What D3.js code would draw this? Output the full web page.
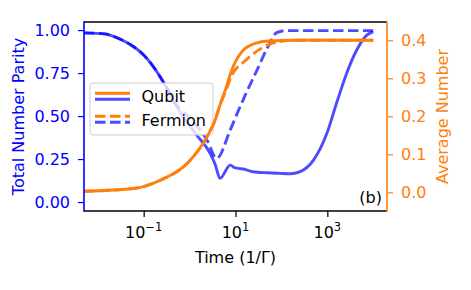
<!DOCTYPE html>
<html><head><meta charset="utf-8">
<script src="https://cdn.jsdelivr.net/npm/d3@7"></script>
<style>body{margin:0;background:#fff}svg{display:block}text{font-family:"DejaVu Sans",sans-serif}</style>
</head><body><svg id="c" width="471" height="290"></svg>
<script>
// ---- data ----
const qubitParityT = [0.005,0.014,0.032,0.063,0.1,0.145,0.28,0.54,1.33,2.8,3.6,4.6,7.7,9.5,11.5,16,24,50,93,155,250,500,980,1580,2630,4370,7240,10000];
const qubitParity  = [0.984,0.978,0.945,0.90,0.855,0.805,0.69,0.55,0.40,0.283,0.22,0.138,0.215,0.20,0.196,0.19,0.176,0.17,0.167,0.165,0.176,0.244,0.40,0.573,0.748,0.884,0.971,0.99];
const fermionParityT = [0.005,0.014,0.032,0.063,0.1,0.145,0.28,0.54,1.0,2.4,3.9,7.7,11.5,16.2,31,48,79,130,1000,10000];
const fermionParity  = [0.984,0.978,0.945,0.90,0.855,0.805,0.69,0.56,0.49,0.36,0.254,0.42,0.53,0.62,0.78,0.89,0.985,0.997,0.997,0.997];
const qubitNumberT = [0.005,0.06,0.23,0.88,2.39,3.6,4.6,6.0,8.3,13.8,27,52,200,10000];
const qubitNumber  = [0.003,0.01,0.032,0.076,0.146,0.19,0.23,0.269,0.322,0.370,0.392,0.398,0.40,0.40];
const fermionNumberT = [0.005,0.06,0.23,0.88,2.39,3.6,4.6,6.0,8.3,16.2,31.6,56,100,200,10000];
const fermionNumber  = [0.003,0.01,0.032,0.076,0.146,0.19,0.23,0.264,0.308,0.346,0.374,0.39,0.397,0.40,0.40];
const leftTicks = [0,0.25,0.5,0.75,1.0];
const rightTicks = [0,0.1,0.2,0.3,0.4];
const xTicks = [0.1,10,1000];
const legendLabels = ["Qubit","Fermion"];

const BLUE = "#0000ff", LBLUE = "rgba(0,0,255,0.7)", ORANGE = "#ff7f0e";
const L=84, R=387, T=22, B=211, FS=16, LW=2.9;
const svg = d3.select("#c");
const x = d3.scaleLog().domain([Math.pow(10,-2.3), Math.pow(10,4.3)]).range([L,R]);
const yL = d3.scaleLinear().domain([-0.052,1.047]).range([B,T]);
const yR = d3.scaleLinear().domain([-0.049,0.448]).range([B,T]);

svg.append("clipPath").attr("id","clp").append("rect").attr("x",L).attr("y",T).attr("width",R-L).attr("height",B-T);

function line(ts, vs, ys){ 
  return d3.line().x(d=>x(d[0])).y(d=>ys(d[1])).curve(d3.curveMonotoneX)(ts.map((t,i)=>[t,vs[i]]));
}
const plot = svg.append("g").attr("clip-path","url(#clp)");
plot.append("path").attr("d",line(fermionParityT,fermionParity,yL)).attr("fill","none").attr("stroke",LBLUE).attr("stroke-width",LW).attr("stroke-dasharray","10.5,4.5");
plot.append("path").attr("d",line(qubitParityT,qubitParity,yL)).attr("fill","none").attr("stroke",LBLUE).attr("stroke-width",LW);

// legend
const lg = svg.append("g");
lg.append("rect").attr("x",90).attr("y",83).attr("width",123).attr("height",52).attr("rx",3)
  .attr("fill","rgba(255,255,255,0.8)").attr("stroke","#cccccc").attr("stroke-width",1);
[[93.3,99.3,null],[116.3,122.3,"10.5,4.5"]].forEach((r,i)=>{
  lg.append("line").attr("x1",95).attr("x2",130).attr("y1",r[0]).attr("y2",r[0]).attr("stroke",ORANGE).attr("stroke-width",LW).attr("stroke-dasharray",r[2]);
  lg.append("line").attr("x1",95).attr("x2",130).attr("y1",r[1]).attr("y2",r[1]).attr("stroke",LBLUE).attr("stroke-width",LW).attr("stroke-dasharray",r[2]);
  lg.append("text").attr("x",141.5).attr("y",i?125.7:101.6).attr("font-size",FS).attr("fill","#000").text(legendLabels[i]);
});

const plot2 = svg.append("g").attr("clip-path","url(#clp)");
plot2.append("path").attr("d",line(fermionNumberT,fermionNumber,yR)).attr("fill","none").attr("stroke",ORANGE).attr("stroke-width",LW).attr("stroke-dasharray","10.5,4.5");
plot2.append("path").attr("d",line(qubitNumberT,qubitNumber,yR)).attr("fill","none").attr("stroke",ORANGE).attr("stroke-width",LW);

// axes
const ax = svg.append("g").attr("transform",`translate(0,${B})`).call(d3.axisBottom(x).tickValues(xTicks).tickSize(6).tickFormat(""));
ax.select(".domain").remove();
ax.selectAll("line").attr("stroke","#000").attr("stroke-width",1.2);
xTicks.forEach(v=>{
  const e = Math.round(Math.log10(v));
  const t = svg.append("text").attr("x",x(v)).attr("y",238).attr("text-anchor","middle").attr("font-size",FS).attr("fill","#000");
  t.append("tspan").text("10");
  t.append("tspan").attr("dy",-7).attr("font-size",FS*0.72).text(e<0?"\u2212"+(-e):String(e));
});
const al = svg.append("g").attr("transform",`translate(${L},0)`).call(d3.axisLeft(yL).tickValues(leftTicks).tickSize(6).tickFormat(d3.format(".2f")).tickPadding(8));
al.select(".domain").remove();
al.selectAll("line").attr("stroke",BLUE).attr("stroke-width",1.2);
al.selectAll("text").attr("font-size",FS).attr("fill",BLUE).attr("font-family","DejaVu Sans");
const ar = svg.append("g").attr("transform",`translate(${R},0)`).call(d3.axisRight(yR).tickValues(rightTicks).tickSize(6).tickFormat(d3.format(".1f")).tickPadding(8));
ar.select(".domain").remove();
ar.selectAll("line").attr("stroke",ORANGE).attr("stroke-width",1.2);
ar.selectAll("text").attr("font-size",FS).attr("fill",ORANGE).attr("font-family","DejaVu Sans");

// spines
svg.append("line").attr("x1",L).attr("x2",R).attr("y1",T).attr("y2",T).attr("stroke","#000").attr("stroke-width",1.6);
svg.append("line").attr("x1",L).attr("x2",R).attr("y1",B).attr("y2",B).attr("stroke","#000").attr("stroke-width",1.6);
svg.append("line").attr("x1",L).attr("x2",L).attr("y1",T-0.8).attr("y2",B+0.8).attr("stroke",BLUE).attr("stroke-width",1.6);
svg.append("line").attr("x1",R).attr("x2",R).attr("y1",T-0.8).attr("y2",B+0.8).attr("stroke",ORANGE).attr("stroke-width",1.6);

// labels
svg.append("text").attr("x",382).attr("y",203.3).attr("text-anchor","end").attr("font-size",FS).attr("fill","#000").text("(b)");
svg.append("text").attr("x",235.5).attr("y",263).attr("text-anchor","middle").attr("font-size",FS).attr("fill","#000").text("Time (1/\u0393)");
svg.append("text").attr("transform","translate(24,116.5) rotate(-90)").attr("text-anchor","middle").attr("font-size",FS).attr("fill",BLUE).text("Total Number Parity");
svg.append("text").attr("transform","translate(448,116.5) rotate(-90)").attr("text-anchor","middle").attr("font-size",FS).attr("fill",ORANGE).text("Average Number");
</script></body></html>
